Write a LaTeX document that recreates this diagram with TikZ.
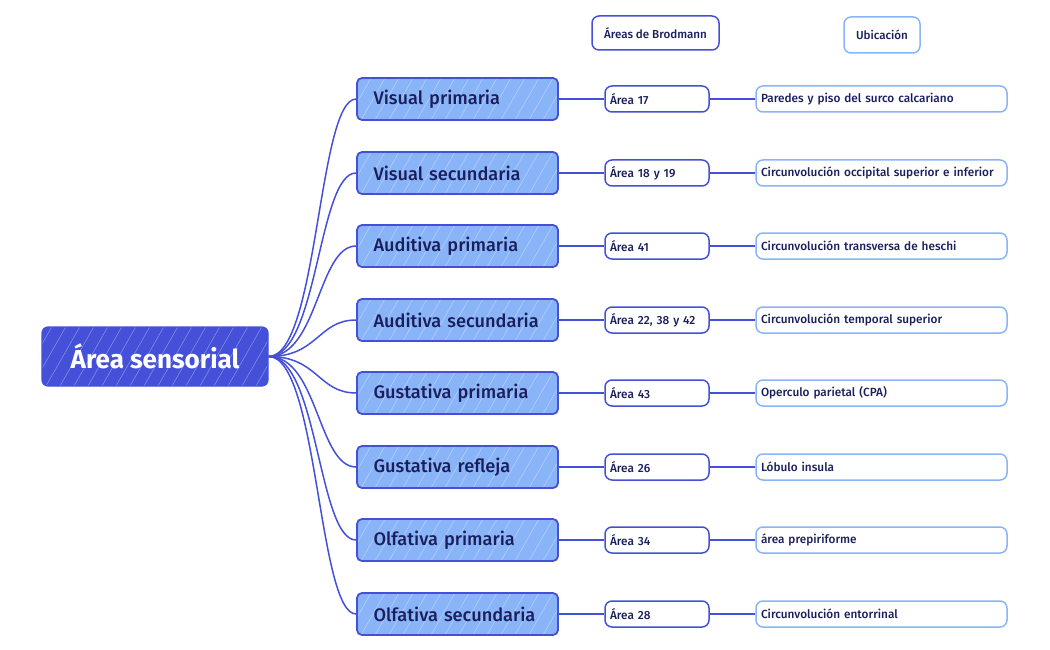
\documentclass[tikz,border=0pt]{standalone}
\usepackage{fontspec}
\setmainfont{Fira Sans}
\newfontfamily\medfont{Fira Sans Medium}
\definecolor{dblue}{HTML}{4450D8}
\definecolor{lblue}{HTML}{8AB4F8}
\definecolor{navy}{HTML}{1A1F5C}
\begin{document}
\begin{tikzpicture}[x=1pt,y=-1pt,
  hatch/.style={path picture={\foreach \k in {-80,-66,...,260} \draw[white,opacity=0.35,line width=0.6pt] ([xshift=\k pt]path picture bounding box.south west) -- ++(40,-70);}},
  rootbox/.style={draw=dblue,fill=dblue,line width=1.2pt,rounded corners=6pt,minimum width=226pt,minimum height=59pt,text=white,font=\fontsize{26}{28}\selectfont\bfseries,hatch},
  lonebox/.style={draw=dblue,fill=lblue,line width=1.8pt,rounded corners=5pt,minimum width=201pt,minimum height=42pt,text=navy,font=\medfont\fontsize{18.2}{20}\selectfont,text width=168pt,align=left,hatch},
  areabox/.style={draw=dblue,fill=white,line width=1.5pt,rounded corners=7pt,minimum width=104pt,minimum height=26pt,text=navy,font=\medfont\fontsize{11.8}{13}\selectfont,text width=94pt,align=left},
  locbox/.style={draw=lblue,fill=white,line width=1.5pt,rounded corners=7pt,minimum width=251pt,minimum height=26pt,text=navy,font=\medfont\fontsize{11.8}{13}\selectfont,text width=241pt,align=left},
  headA/.style={draw=dblue,fill=white,line width=1.5pt,rounded corners=7pt,minimum width=127pt,minimum height=34pt,text=navy,font=\medfont\fontsize{11.6}{13}\selectfont},
  headB/.style={draw=lblue,fill=white,line width=1.5pt,rounded corners=7pt,minimum width=76pt,minimum height=36pt,text=navy,font=\medfont\fontsize{11.6}{13}\selectfont},
  conn/.style={draw=dblue,line width=1.5pt}]
\useasboundingbox (0,0) rectangle (1050,650);
\node[rootbox] (root) at (155,356.5) {Área sensorial};
\node[headA] (hA) at (655.5,33) {Áreas de Brodmann};
\node[headB] (hB) at (882,35) {Ubicación};
\foreach \i/\y/\a/\b/\c in {
 1/99/Visual primaria/Área 17/Paredes y piso del surco calcariano,
 2/173/Visual secundaria/Área 18 y 19/Circunvolución occipital superior e inferior,
 3/246/Auditiva primaria/Área 41/Circunvolución transversa de heschi,
 4/320/Auditiva secundaria/{Área 22, 38 y 42}/Circunvolución temporal superior,
 5/393/Gustativa primaria/Área 43/Operculo parietal (CPA),
 6/467/Gustativa refleja/Área 26/Lóbulo insula,
 7/540/Olfativa primaria/Área 34/área prepiriforme,
 8/614/Olfativa secundaria/Área 28/Circunvolución entorrinal}{
  \node[lonebox] (L\i) at (457.5,\y) {\a};
  \node[areabox] (A\i) at (657,\y) {\b};
  \node[locbox] (U\i) at (881.5,\y) {\c};
  \draw[conn] (root.east) .. controls (318,356.5) and (318,\y) .. (L\i.west);
  \draw[conn] (L\i.east) -- (A\i.west);
  \draw[conn] (A\i.east) -- (U\i.west);
}
\end{tikzpicture}
\end{document}
